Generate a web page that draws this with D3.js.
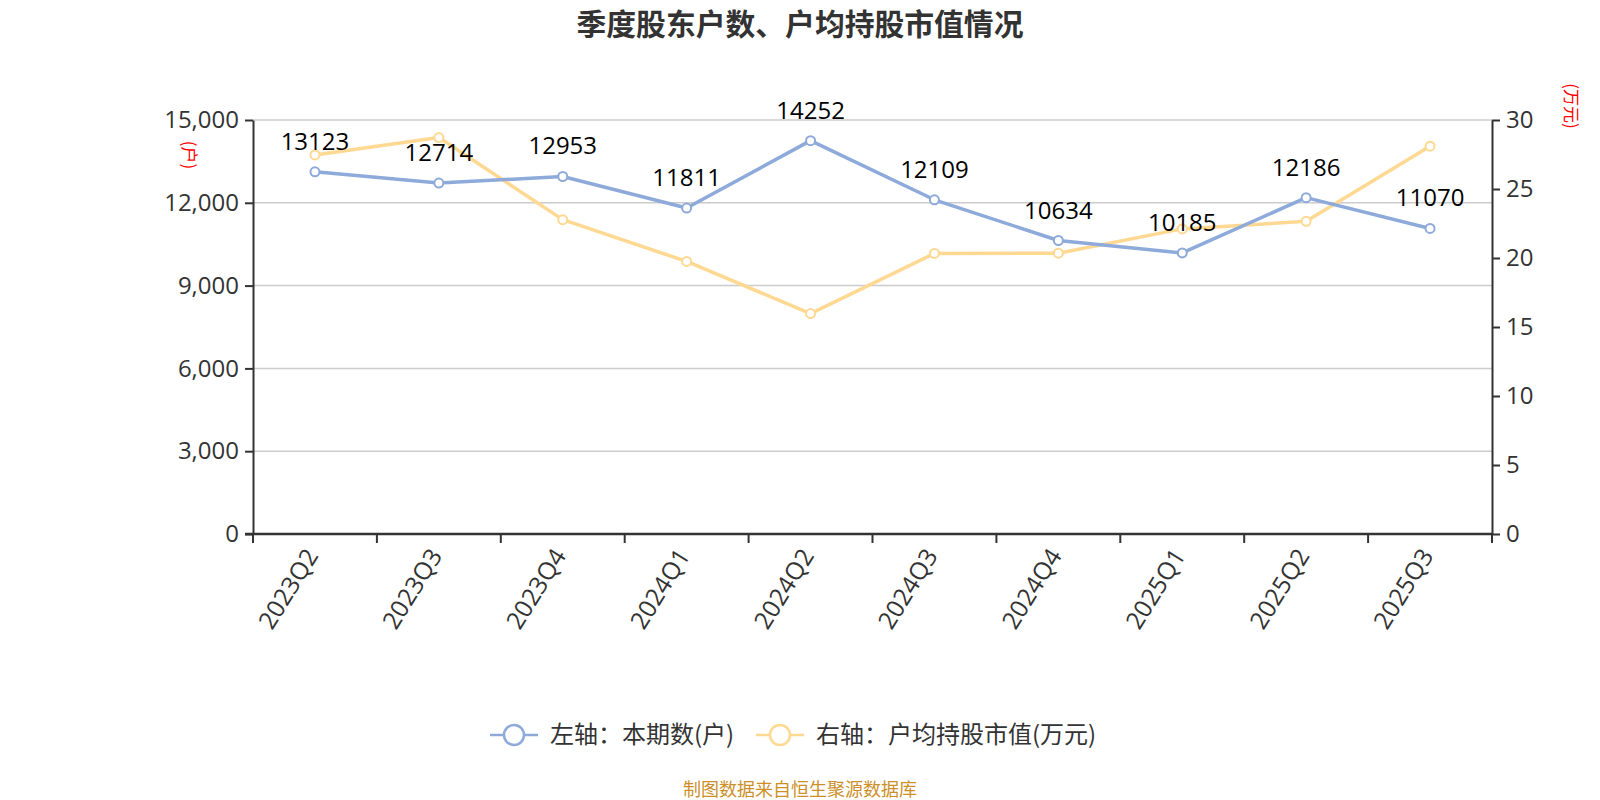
<!DOCTYPE html>
<html>
<head>
<meta charset="utf-8">
<script src="https://cdn.jsdelivr.net/npm/d3@7"></script>
<style>
  html, body { margin: 0; padding: 0; background: #fff; }
  svg { display: block; }
  text { font-family: "Open Sans", "Noto Sans CJK SC", sans-serif; }
</style>
</head>
<body>
<svg id="chart" width="1600" height="800"></svg>
<script>
const categories = ["2023Q2","2023Q3","2023Q4","2024Q1","2024Q2","2024Q3","2024Q4","2025Q1","2025Q2","2025Q3"];
const holders = [13123, 12714, 12953, 11811, 14252, 12109, 10634, 10185, 12186, 11070];
const avgValue = [27.47, 28.73, 22.78, 19.75, 15.97, 20.33, 20.35, 22.11, 22.66, 28.10];
const leftTicks = [0, 3000, 6000, 9000, 12000, 15000];
const rightTicks = [0, 5, 10, 15, 20, 25, 30];
const title = "季度股东户数、户均持股市值情况";
const seriesNames = ["左轴：本期数(户)", "右轴：户均持股市值(万元)"];
const leftUnit = "(户)";
const rightUnit = "(万元)";
const footer = "制图数据来自恒生聚源数据库";

const W = 1600, H = 800;
const M = { left: 253, right: 1492, top: 120, bottom: 534 };
const blue = "#8eaadb", yellow = "#ffd892", axisColor = "#333", gridColor = "#cccccc";

const svg = d3.select("#chart");

const x = d3.scaleBand().domain(categories).range([M.left, M.right]).paddingInner(0).paddingOuter(0);
const cx = c => x(c) + x.bandwidth() / 2;
const yL = d3.scaleLinear().domain([0, 15000]).range([M.bottom, M.top]);
const yR = d3.scaleLinear().domain([0, 30]).range([M.bottom, M.top]);

// title
svg.append("text").attr("x", W / 2).attr("y", 35).attr("text-anchor", "middle")
  .style("font-family", "'Noto Sans CJK SC', sans-serif")
  .style("font-size", "29.8px").style("font-weight", "bold").style("fill", "#333").text(title);

// grid
svg.append("g").selectAll("line").data(leftTicks.filter(d => d > 0)).join("line")
  .attr("x1", M.left).attr("x2", M.right)
  .attr("y1", d => yL(d)).attr("y2", d => yL(d))
  .attr("stroke", gridColor).attr("stroke-width", 1.5);

// left axis
const gL = svg.append("g").attr("transform", `translate(${M.left},0)`)
  .call(d3.axisLeft(yL).tickValues(leftTicks).tickFormat(d3.format(",")).tickSize(8).tickSizeOuter(0).tickPadding(6));
// right axis
const gR = svg.append("g").attr("transform", `translate(${M.right},0)`)
  .call(d3.axisRight(yR).tickValues(rightTicks).tickSize(8).tickSizeOuter(0).tickPadding(6));
[gL, gR].forEach(g => {
  g.select(".domain").attr("stroke", axisColor).attr("stroke-width", 2);
  g.selectAll(".tick line").attr("stroke", axisColor).attr("stroke-width", 2);
  g.selectAll(".tick text").style("font-size", "24px").style("fill", "#333")
    .style("font-family", "'Open Sans', sans-serif");
});

// bottom axis
const gB = svg.append("g");
gB.append("line").attr("x1", M.left - 8).attr("x2", M.right).attr("y1", M.bottom).attr("y2", M.bottom)
  .attr("stroke", axisColor).attr("stroke-width", 2.5);
const boundaries = categories.map(c => x(c)).concat([x.range()[1]]);
gB.selectAll("line.tk").data(boundaries).join("line").attr("class", "tk")
  .attr("x1", d => d).attr("x2", d => d).attr("y1", M.bottom).attr("y2", M.bottom + 9)
  .attr("stroke", axisColor).attr("stroke-width", 2);
gB.selectAll("text").data(categories).join("text")
  .attr("transform", d => `translate(${cx(d) - 3},${M.bottom + 17}) rotate(-58)`)
  .attr("text-anchor", "end").attr("dy", "0.35em")
  .style("font-size", "24.5px").style("fill", "#333").text(d => d);

// axis unit labels
svg.append("text").attr("transform", `translate(189,155) rotate(90)`)
  .attr("text-anchor", "middle").attr("dy", "0.35em")
  .style("font-family", "'Noto Sans CJK SC', sans-serif")
  .style("font-size", "17px").style("fill", "red").text(leftUnit);
svg.append("text").attr("transform", `translate(1571,106) rotate(90)`)
  .attr("text-anchor", "middle").attr("dy", "0.35em")
  .style("font-family", "'Noto Sans CJK SC', sans-serif")
  .style("font-size", "17px").style("fill", "red").text(rightUnit);

// lines
const lineL = d3.line().x((d, i) => cx(categories[i])).y(d => yL(d));
const lineR = d3.line().x((d, i) => cx(categories[i])).y(d => yR(d));

svg.append("path").datum(avgValue).attr("d", lineR).attr("fill", "none")
  .attr("stroke", yellow).attr("stroke-width", 3.5).attr("stroke-linejoin", "round");
svg.append("g").selectAll("circle").data(avgValue).join("circle")
  .attr("cx", (d, i) => cx(categories[i])).attr("cy", d => yR(d)).attr("r", 4.5)
  .attr("fill", "#fff").attr("stroke", yellow).attr("stroke-width", 2);

svg.append("path").datum(holders).attr("d", lineL).attr("fill", "none")
  .attr("stroke", blue).attr("stroke-width", 3.5).attr("stroke-linejoin", "round");
svg.append("g").selectAll("circle").data(holders).join("circle")
  .attr("cx", (d, i) => cx(categories[i])).attr("cy", d => yL(d)).attr("r", 4.5)
  .attr("fill", "#fff").attr("stroke", blue).attr("stroke-width", 2);

// data labels
svg.append("g").selectAll("text").data(holders).join("text")
  .attr("x", (d, i) => cx(categories[i])).attr("y", d => yL(d) - 22)
  .attr("text-anchor", "middle").style("font-size", "24px").style("fill", "#000")
  .text(d => d);

// legend
const legend = svg.append("g");
const items = [
  { name: seriesNames[0], color: blue, x0: 490 },
  { name: seriesNames[1], color: yellow, x0: 756 }
];
items.forEach(it => {
  const g = legend.append("g").attr("transform", `translate(${it.x0},735)`);
  g.append("line").attr("x1", 0).attr("x2", 48).attr("stroke", it.color).attr("stroke-width", 2.5);
  g.append("circle").attr("cx", 24).attr("r", 10).attr("fill", "#fff").attr("stroke", it.color).attr("stroke-width", 2.5);
  g.append("text").attr("x", 60).attr("dy", "0.35em").style("font-size", "24px").style("fill", "#333")
    .style("font-family", "'Noto Sans CJK SC', sans-serif").text(it.name);
});

// footer
svg.append("text").attr("x", 800).attr("y", 796).attr("text-anchor", "middle")
  .style("font-family", "'Noto Sans CJK SC', sans-serif")
  .style("font-size", "18px").style("fill", "#cc8f2a").text(footer);
</script>
</body>
</html>
